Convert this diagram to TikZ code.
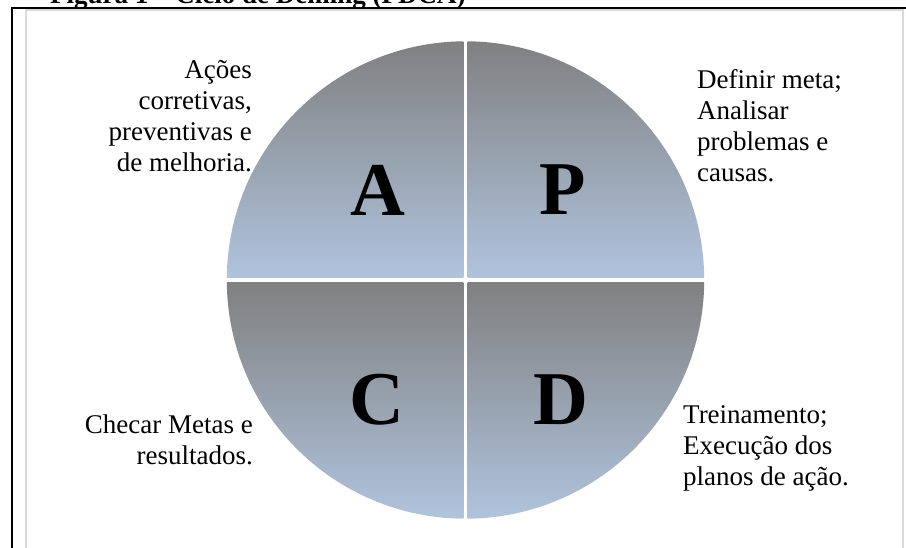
\documentclass[tikz,border=0pt]{standalone}
\usepackage{fontspec}
\setmainfont{Liberation Serif}
\definecolor{qtop}{RGB}{128,128,128}
\definecolor{qbot}{RGB}{176,196,222}
\definecolor{framegray}{RGB}{218,218,218}
\tikzset{
  quadshade/.style={top color=qtop,bottom color=qbot},
  bodytext/.style={font=\fontsize{27}{31}\selectfont, inner sep=0pt},
  bigletter/.style={font=\bfseries\fontsize{76}{80}\selectfont, inner sep=0pt},
}
\begin{document}
\begin{tikzpicture}[x=1pt,y=-1pt]
\useasboundingbox (0,0) rectangle (906,547);
\fill[white] (0,0) rectangle (906,547);
% frames
\draw[framegray, line width=1.5pt] (26,10) rectangle (903,600);
\draw[black, line width=2pt] (12,560) -- (12,8) -- (920,8);
% title
\node[anchor=base west, font=\bfseries\fontsize{27}{31}\selectfont, inner sep=0pt] (title) at (50,3) {Figura 1 – Ciclo de Deming (PDCA)};
% quadrants
\def\cx{465.5}\def\cy{280}\def\R{238.7}\def\g{2.2}
\begin{scope}
\clip (\cx,\cy) circle (\R);
\shade[quadshade] (\cx+\g,\cy-\g) rectangle (\cx+\R+2,\cy-\R-1);
\shade[quadshade] (\cx-\g,\cy-\g) rectangle (\cx-\R-2,\cy-\R-1);
\shade[quadshade] (\cx+\g,\cy+\g) rectangle (\cx+\R+2,\cy+\R+1);
\shade[quadshade] (\cx-\g,\cy+\g) rectangle (\cx-\R-2,\cy+\R+1);
\end{scope}
% letters
\node[bigletter] (A) at (378,190) {A};
\node[bigletter] (P) at (563,190) {P};
\node[bigletter] (C) at (377,400) {C};
\node[bigletter] (D) at (561,400) {D};
% texts (base anchor = baseline of last line)
\node[bodytext, align=right, anchor=base east] (tA) at (252,171) {Ações\\corretivas,\\preventivas e\\de melhoria.};
\node[bodytext, align=left, anchor=base west] (tP) at (697,181) {Definir meta;\\Analisar\\problemas e\\causas.};
\node[bodytext, align=right, anchor=base east] (tC) at (253,464) {Checar Metas e\\resultados.};
\node[bodytext, align=left, anchor=base west] (tD) at (683,485) {Treinamento;\\Execução dos\\planos de ação.};
\end{tikzpicture}
\end{document}
